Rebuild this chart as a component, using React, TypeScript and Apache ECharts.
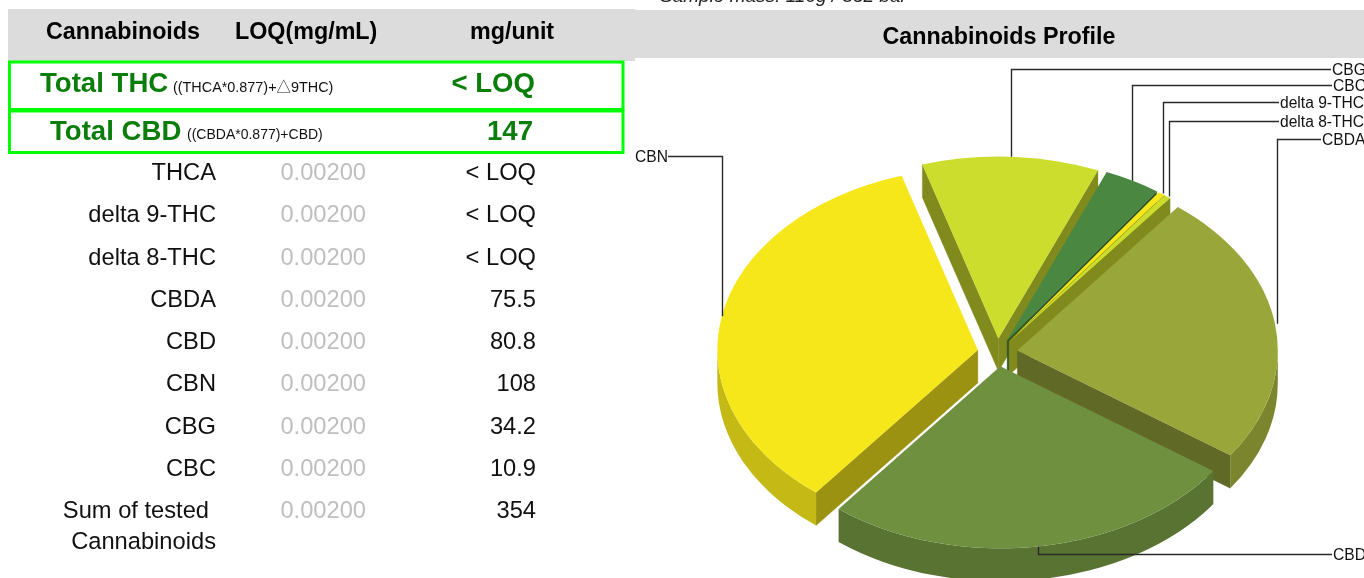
import React, { useEffect, useRef } from "react";
import * as echarts from "echarts";

// ---- pie data (clockwise from the CBG slice) ----
const pieNames = ["CBG", "CBC", "delta 9-THC", "delta 8-THC", "CBDA", "CBD", "CBN"];
const pieValues = [34.2, 10.9, 1.3, 1.3, 75.5, 80.8, 108];
const pieColors = ["#CDDD2E", "#4A8841", "#F6E71B", "#CDDD2E", "#98A63A", "#6F903F", "#F6E71B"];

// ---- table data ----
const headers = ["Cannabinoids", "LOQ(mg/mL)", "mg/unit"];
const rowNames = ["THCA", "delta 9-THC", "delta 8-THC", "CBDA", "CBD", "CBN", "CBG", "CBC"];
const rowLoq = ["0.00200", "0.00200", "0.00200", "0.00200", "0.00200", "0.00200", "0.00200", "0.00200"];
const rowValues = ["< LOQ", "< LOQ", "< LOQ", "75.5", "80.8", "108", "34.2", "10.9"];
const sumLabel = ["Sum of tested", "Cannabinoids"];
const sumLoq = "0.00200";
const sumValue = "354";
const totalThc = ["Total THC", "((THCA*0.877)+△9THC)", "< LOQ"];
const totalCbd = ["Total CBD", "((CBDA*0.877)+CBD)", "147"];
const chartTitle = "Cannabinoids Profile";
const sampleLine = "Sample mass: 110g / 352 bar";

// ---- layout ----
const FONT = '"Liberation Sans", "Noto Sans CJK SC", Arial, sans-serif';
const CX = 997.5, CY = 352.5, RX = 260.5, RY = 182, DEPTH = 33, EXPLODE = 20;
const START_DEG = -17;
const WALL = 0.63, RIM = 0.8;
const rowY = [172, 214, 257, 299, 341, 383, 426, 468];
const drawOrder = [0, 1, 2, 3, 6, 4, 5];
const leaderY = [69, 85, 102, 121, 139, 554, 156];
const leaderDx = [0, 0, 1, 2, 2, 0, 0];
const labelX = [1332, 1333, 1280, 1280, 1322, 1333, 635];
const labelW = [0, 0, 0, 0, 0, 0, 33];

const total = pieValues.reduce((a, b) => a + b, 0);
const rad = (d: number) => (d * Math.PI) / 180;
function range(i: number) {
  let a = START_DEG;
  for (let k = 0; k < i; k++) a += (pieValues[k] / total) * 360;
  return [a, a + (pieValues[i] / total) * 360];
}
function shade(hex: string, f: number) {
  const n = parseInt(hex.slice(1), 16);
  const c = [(n >> 16) & 255, (n >> 8) & 255, n & 255].map((v) => Math.round(v * f));
  return `rgb(${c[0]},${c[1]},${c[2]})`;
}
function centerOf(i: number) {
  const [a0, a1] = range(i);
  const m = rad((a0 + a1) / 2);
  return [CX + EXPLODE * Math.sin(m), CY - (EXPLODE * Math.cos(m) * RY) / RX];
}
function rimPt(c: number[], deg: number, dy = 0) {
  return [c[0] + RX * Math.sin(rad(deg)), c[1] - RY * Math.cos(rad(deg)) + dy];
}
const fmt = (p: number[]) => `${p[0].toFixed(2)} ${p[1].toFixed(2)}`;

function renderSlice(_p: any, api: any) {
  const i = api.value(0) as number;
  const [a0, a1] = range(i);
  const c = centerOf(i);
  const col = pieColors[i];
  const children: any[] = [];
  const wall = (deg: number) => {
    const e = rimPt(c, deg);
    const d = `M${fmt(c)} L${fmt(e)} L${fmt([e[0], e[1] + DEPTH])} L${fmt([c[0], c[1] + DEPTH])} Z`;
    children.push({ type: "path", shape: { pathData: d }, style: { fill: shade(col, WALL), stroke: shade(col, WALL), lineWidth: 0.3 } });
  };
  if (Math.cos(rad(a0 - 90)) < 0) wall(a0);
  if (Math.cos(rad(a1 + 90)) < 0) wall(a1);
  const r0 = Math.max(a0, 90), r1 = Math.min(a1, 270);
  if (r1 > r0) {
    const p0 = rimPt(c, r0), p1 = rimPt(c, r1);
    const d = `M${fmt(p0)} A${RX} ${RY} 0 0 1 ${fmt(p1)} L${fmt([p1[0], p1[1] + DEPTH])} A${RX} ${RY} 0 0 0 ${fmt([p0[0], p0[1] + DEPTH])} Z`;
    children.push({ type: "path", shape: { pathData: d }, style: { fill: shade(col, RIM) } });
  }
  const p0 = rimPt(c, a0), p1 = rimPt(c, a1);
  const top = `M${fmt(c)} L${fmt(p0)} A${RX} ${RY} 0 ${a1 - a0 > 180 ? 1 : 0} 1 ${fmt(p1)} Z`;
  children.push({ type: "path", shape: { pathData: top }, style: { fill: col } });
  return { type: "group", children };
}

function renderLeader(_p: any, api: any) {
  const i = api.value(0) as number;
  const [a0, a1] = range(i);
  const s = rimPt(centerOf(i), (a0 + a1) / 2);
  const x = Math.round(s[0] + leaderDx[i]) + 0.5;
  const y = leaderY[i] + 0.5;
  const endX = labelX[i] + (labelW[i] ? labelW[i] : -1);
  return {
    type: "group",
    children: [
      { type: "polyline", shape: { points: [[x, s[1]], [x, y], [endX, y]] }, style: { fill: "none", stroke: "#2a2a2a", lineWidth: 1.4 } },
      { type: "text", style: { x: labelX[i], y: leaderY[i], text: pieNames[i], font: `15.6px ${FONT}`, fill: "#111", align: "left", verticalAlign: "middle" } },
    ],
  };
}

function txt(text: string, x: number, y: number, size: number, fill: string, align = "right", weight = "normal", italic = false) {
  return {
    type: "text",
    silent: true,
    style: { x, y, text, fill, align, verticalAlign: "middle", font: `${italic ? "italic " : ""}${weight} ${size}px ${FONT}` },
  };
}

function tableElements() {
  const els: any[] = [
    { type: "rect", silent: true, shape: { x: 8, y: 9, width: 627, height: 52 }, style: { fill: "#DCDCDC" } },
    { type: "rect", silent: true, shape: { x: 635, y: 10, width: 729, height: 48 }, style: { fill: "#DCDCDC" } },
    { type: "rect", silent: true, shape: { x: 9.5, y: 62, width: 613.5, height: 47.5 }, style: { fill: "none", stroke: "#00FF00", lineWidth: 3 } },
    { type: "rect", silent: true, shape: { x: 9.5, y: 111, width: 613.5, height: 41.5 }, style: { fill: "none", stroke: "#00FF00", lineWidth: 3 } },
    txt(sampleLine, 660, -5, 19, "#222", "left", "normal", true),
    txt(headers[0], 46, 31, 23.3, "#000", "left", "bold"),
    txt(headers[1], 235, 31, 23.3, "#000", "left", "bold"),
    txt(headers[2], 470, 31, 23.3, "#000", "left", "bold"),
    txt(chartTitle, 999, 36, 23.3, "#000", "center", "bold"),
    txt(totalThc[0], 40, 82, 27.6, "#0A7D0A", "left", "bold"),
    txt(totalThc[1], 173, 87, 14.4, "#111", "left"),
    txt(totalThc[2], 535, 82, 27.6, "#0A7D0A", "right", "bold"),
    txt(totalCbd[0], 50, 130, 27.6, "#0A7D0A", "left", "bold"),
    txt(totalCbd[1], 187, 134, 14, "#111", "left"),
    txt(totalCbd[2], 533, 130, 27.6, "#0A7D0A", "right", "bold"),
  ];
  rowNames.forEach((n, i) => {
    els.push(txt(n, 216, rowY[i], 23.7, "#111"));
    els.push(txt(rowLoq[i], 366, rowY[i], 23.7, "#BFBFBF"));
    els.push(txt(rowValues[i], 536, rowY[i], 23.7, "#111"));
  });
  els.push(txt(sumLabel[0], 209, 510, 23.7, "#111"));
  els.push(txt(sumLabel[1], 216, 541, 23.7, "#111"));
  els.push(txt(sumLoq, 366, 510, 23.7, "#BFBFBF"));
  els.push(txt(sumValue, 536, 510, 23.7, "#111"));
  return els;
}

export default function App() {
  const ref = useRef<HTMLDivElement>(null);
  useEffect(() => {
    const chart = echarts.init(ref.current!, undefined, { renderer: "svg" });
    chart.setOption({
      animation: false,
      graphic: { elements: tableElements() },
      series: [
        { type: "custom", coordinateSystem: "none", z: 2, silent: true, renderItem: renderSlice, data: drawOrder.map((i) => [i]) },
        { type: "custom", coordinateSystem: "none", z: 3, silent: true, renderItem: renderLeader, data: drawOrder.map((i) => [i]) },
      ],
    });
    return () => chart.dispose();
  }, []);
  return <div ref={ref} style={{ position: "fixed", left: 0, top: 0, width: 1364, height: 578 }} />;
}
